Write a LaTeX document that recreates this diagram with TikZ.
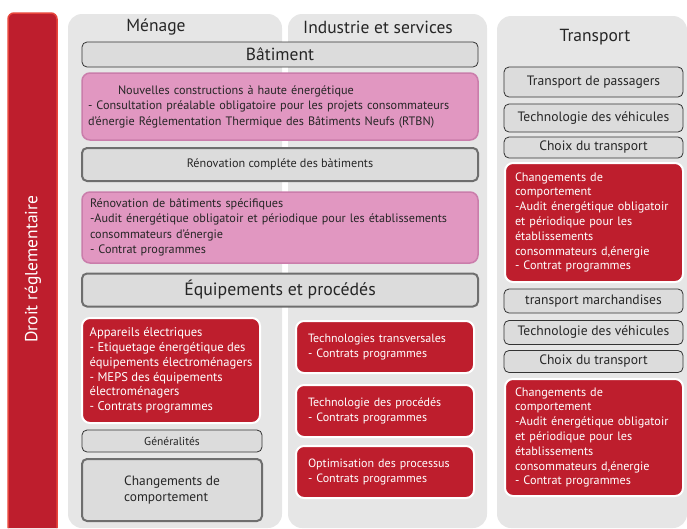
\documentclass[tikz,border=0pt]{standalone}
\usepackage{fontspec}
\setmainfont{PT Sans}
\definecolor{redfill}{HTML}{BE1E2D}
\definecolor{baredge}{HTML}{E8453C}
\definecolor{pinkfill}{HTML}{E197C1}
\definecolor{pinkedge}{HTML}{CA7DAB}
\definecolor{panelgrey}{HTML}{E6E6E6}
\definecolor{boxgrey}{HTML}{DCDCDC}
\definecolor{edgegrey}{HTML}{6E6E6E}
\begin{document}
\begin{tikzpicture}[x=1pt, y=-1pt,
  panel/.style={fill=panelgrey, rounded corners=14pt},
  header/.style={font=\fontsize{17.5}{20}\selectfont, text=black!85},
  greybox/.style={draw=black!80, fill=boxgrey, rounded corners=5pt, line width=0.8pt, font=\fontsize{13.6}{16}\selectfont, text=black!85, inner sep=0pt},
  thickbox/.style={greybox, draw=edgegrey, line width=2pt},
  pinkbox/.style={draw=pinkedge, fill=pinkfill, rounded corners=8pt, line width=1.5pt, font=\fontsize{12.2}{15.5}\selectfont, text=black!85, align=left, inner ysep=0pt},
  redbox/.style={draw=white, fill=redfill, rounded corners=8pt, line width=2pt, text=white, align=left, font=\fontsize{12.2}{14.8}\selectfont, inner ysep=0pt}]
  \useasboundingbox (0,0) rectangle (687,528);

  % Left bar
  \draw[draw=baredge, fill=redfill, line width=1.5pt, rounded corners=6pt] (8,528) -- (8,13) -- (57,13) -- (57,528);
  \node[rotate=90, text=white, font=\fontsize{17.5}{20}\selectfont] (droit) at (33,269) {Droit réglementaire};

  % Background panels
  \fill[panelgrey, rounded corners=14pt] (68,14) rectangle (282,528);
  \fill[panelgrey, rounded corners=14pt] (288,14) rectangle (487,528);
  \fill[panelgrey, rounded corners=14pt] (497,16) rectangle (687,528);
  \node[header] (menage) at (156,27) {Ménage};
  \node[header] (industrie) at (378,27) {Industrie et services};
  \node[header] (transport) at (595,37) {Transport};

  % Batiment
  \node[greybox, minimum width=396, minimum height=25, font=\fontsize{17.5}{20}\selectfont] (batiment) at (280,54.5) {Bâtiment};
  \node[pinkbox, minimum width=396, minimum height=67, text width=384, inner xsep=6] (neuf) at (280,106.5)
    {\hspace*{30pt}Nouvelles constructions à haute énergétique\\
     - Consultation préalable obligatoire pour les projets consommateurs\\
     d’énergie Réglementation Thermique des Bâtiments Neufs (RTBN)};
  \node[thickbox, minimum width=396, minimum height=33, font=\fontsize{12.2}{14}\selectfont] (renov) at (280,164.5) {Rénovation compléte des bàtiments};
  \node[pinkbox, minimum width=396, minimum height=71, text width=380, inner xsep=8] (specif) at (280,227.5)
    {Rénovation de bâtiments spécifiques\\
     -Audit énergétique obligatoir et périodique pour les établissements\\
     consommateurs d’énergie\\
     - Contrat programmes};
  \node[thickbox, minimum width=396, minimum height=33, font=\fontsize{17.8}{20}\selectfont] (equip) at (280,290) {Équipements et procédés};

  % Menage
  \node[redbox, minimum width=178, minimum height=105, inner xsep=0, font=\fontsize{12.6}{14.8}\selectfont] (appareils) at (171,370.5)
    {Appareils électriques\\
     - Etiquetage énergétique des\\
     équipements électroménagers\\
     - MEPS des équipements\\
     électroménagers\\
     - Contrats programmes};
  \node[greybox, minimum width=180, minimum height=22, font=\fontsize{11.5}{13}\selectfont] (general) at (172,441) {Généralités};
  \node[thickbox, minimum width=180, minimum height=62, align=left, font=\fontsize{13.4}{16}\selectfont] (compmen) at (172,490)
    {Changements de\\comportement};

  % Industrie et services
  \foreach \name/\y/\txt in {transv/347/Technologies transversales,
                            procedes/411/Technologie des procédés,
                            optim/472/Optimisation des processus} {
    \node[redbox, minimum width=178, minimum height=52, text width=154, inner xsep=12, font=\fontsize{12}{14.5}\selectfont] (\name) at (385,\y)
      {\txt\\- Contrats programmes};
  }

  % Transport
  \node[greybox, minimum width=179, minimum height=30] (passagers) at (593.5,82) {Transport de passagers};
  \node[greybox, minimum width=179, minimum height=28] (techA) at (593.5,118) {Technologie des véhicules};
  \node[greybox, minimum width=179, minimum height=21] (choixA) at (593.5,147.5) {Choix du transport};
  \node[redbox, minimum width=178, minimum height=119, text width=158, inner xsep=10] (compA) at (594,222.5)
    {Changements de\\
     comportement\\
     -Audit énergétique obligatoir\\
     et périodique pour les\\
     établissements\\
     consommateurs d,énergie\\
     - Contrat programmes};
  \node[greybox, minimum width=179, minimum height=24] (marchand) at (593.5,301) {transport marchandises};
  \node[greybox, minimum width=179, minimum height=24] (techB) at (593.5,332.5) {Technologie des véhicules};
  \node[greybox, minimum width=179, minimum height=22] (choixB) at (593.5,361.5) {Choix du transport};
  \node[redbox, minimum width=178, minimum height=117, text width=158, inner xsep=10] (compB) at (594,437.5)
    {Changements de\\
     comportement\\
     -Audit énergétique obligatoir\\
     et périodique pour les\\
     établissements\\
     consommateurs d,énergie\\
     - Contrat programmes};
\end{tikzpicture}
\end{document}
